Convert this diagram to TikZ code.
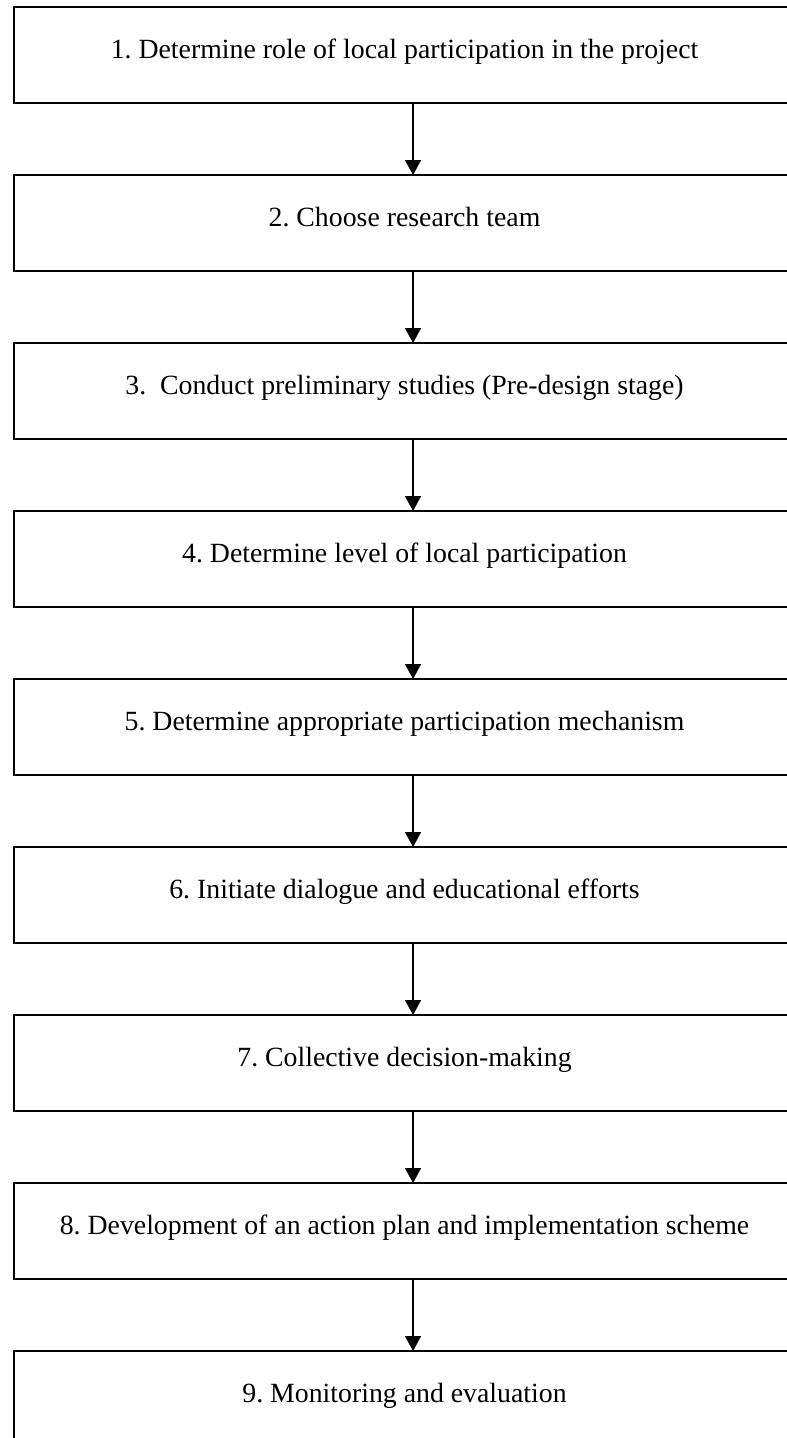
\documentclass[tikz,border=0pt]{standalone}
\usepackage{fontspec}
\setmainfont{Liberation Serif}
\usetikzlibrary{arrows.meta}
\begin{document}
\frenchspacing
\begin{tikzpicture}[x=1pt,y=-1pt,
  stepbox/.style={draw=black,line width=1.6pt,minimum width=779pt,minimum height=96pt,inner sep=0pt,outer sep=0pt},
  steptext/.style={anchor=base,inner sep=0pt,font=\fontsize{27.8}{30}\selectfont\frenchspacing},
  flow/.style={draw=black,line width=1.6pt,-{Triangle[width=16pt,length=15pt]}}]
\useasboundingbox (0,0) rectangle (787,1438);
\clip (0,0) rectangle (787,1438);
\foreach \i/\t in {1/{1. Determine role of local participation in the project},
                   2/{2. Choose research team},
                   3/{3.\ \ Conduct preliminary studies (Pre-design stage)},
                   4/{4. Determine level of local participation},
                   5/{5. Determine appropriate participation mechanism},
                   6/{6. Initiate dialogue and educational efforts},
                   7/{7. Collective decision-making},
                   8/{8. Development of an action plan and implementation scheme},
                   9/{9. Monitoring and evaluation}}{
  \pgfmathsetmacro{\tp}{7+168*(\i-1)}
  \node[stepbox] (b\i) at (403.5,\tp+48) {};
  \node[steptext] (t\i) at (404.5,\tp+51.5) {\t};
}
\foreach \i [evaluate=\i as \j using int(\i+1)] in {1,...,8}{
  \draw[flow] ([xshift=9.5pt]b\i.south) -- ([xshift=9.5pt]b\j.north);
}
\end{tikzpicture}
\end{document}
